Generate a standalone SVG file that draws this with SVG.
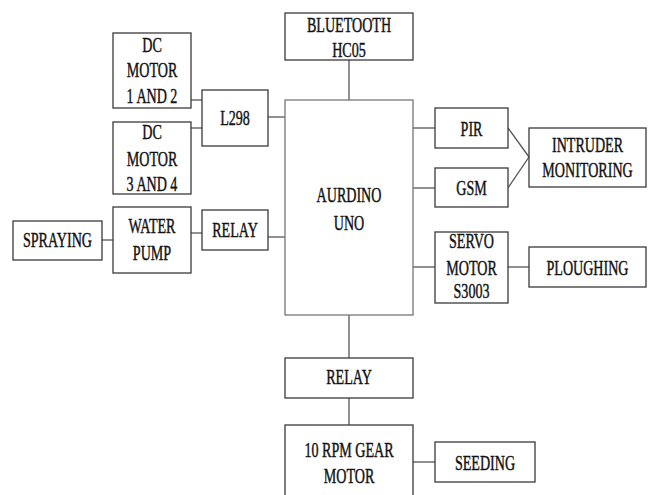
<svg xmlns="http://www.w3.org/2000/svg" width="652" height="495" viewBox="0 0 652 495">
<style>
rect{fill:#fff;stroke:#3a3a3a;stroke-width:1.3}
text{font-family:"Liberation Serif","Times New Roman",serif;font-size:22px;text-anchor:middle;fill:#111;stroke:#111;stroke-width:0.45}
.c line{stroke:#555;stroke-width:1.3}
</style>
<rect x="0" y="0" width="652" height="495" style="stroke:none"/>
<g class="c" id="connectors">
<line x1="349" y1="60" x2="349" y2="100"/>
<line x1="191" y1="100" x2="202" y2="100"/>
<line x1="191" y1="128" x2="202" y2="128"/>
<line x1="268" y1="117" x2="285" y2="117"/>
<line x1="102" y1="240" x2="113" y2="240"/>
<line x1="191" y1="233" x2="202" y2="233"/>
<line x1="268" y1="237" x2="285" y2="237"/>
<line x1="413" y1="128" x2="435" y2="128"/>
<line x1="413" y1="188" x2="435" y2="188"/>
<line x1="508" y1="128" x2="529" y2="157"/>
<line x1="508" y1="188" x2="529" y2="157"/>
<line x1="413" y1="267" x2="435" y2="267"/>
<line x1="508" y1="267" x2="529" y2="267"/>
<line x1="349" y1="315" x2="349" y2="358"/>
<line x1="349" y1="398" x2="349" y2="425"/>
<line x1="413" y1="462" x2="435" y2="462"/>
</g>
<g id="bluetooth"><rect x="285" y="13" width="128" height="47"/>
<text transform="translate(349 0) scale(0.64 1)" y="32">BLUETOOTH</text>
<text transform="translate(349 0) scale(0.64 1)" y="57">HC05</text></g>
<g id="dc12"><rect x="113" y="33" width="78" height="75"/>
<text transform="translate(152 0) scale(0.64 1)" y="52">DC</text>
<text transform="translate(152 0) scale(0.64 1)" y="77">MOTOR</text>
<text transform="translate(152 0) scale(0.64 1)" y="103">1 AND 2</text></g>
<g id="dc34"><rect x="113" y="122" width="78" height="72"/>
<text transform="translate(152 0) scale(0.64 1)" y="139">DC</text>
<text transform="translate(152 0) scale(0.64 1)" y="166">MOTOR</text>
<text transform="translate(152 0) scale(0.64 1)" y="191">3 AND 4</text></g>
<g id="l298"><rect x="202" y="90" width="66" height="56"/>
<text transform="translate(235 0) scale(0.64 1)" y="125">L298</text></g>
<g id="spraying"><rect x="13" y="221" width="89" height="39"/>
<text transform="translate(57.5 0) scale(0.64 1)" y="247">SPRAYING</text></g>
<g id="pump"><rect x="113" y="207" width="78" height="66"/>
<text transform="translate(152 0) scale(0.64 1)" y="233">WATER</text>
<text transform="translate(152 0) scale(0.64 1)" y="260">PUMP</text></g>
<g id="relay1"><rect x="202" y="210" width="66" height="40"/>
<text transform="translate(235 0) scale(0.64 1)" y="237">RELAY</text></g>
<g id="arduino"><rect x="285" y="100" width="128" height="215" style="stroke:#777"/>
<text transform="translate(349 0) scale(0.64 1)" y="202">AURDINO</text>
<text transform="translate(349 0) scale(0.64 1)" y="230">UNO</text></g>
<g id="pir"><rect x="435" y="108" width="73" height="40"/>
<text transform="translate(471.5 0) scale(0.64 1)" y="136">PIR</text></g>
<g id="gsm"><rect x="435" y="168" width="73" height="39"/>
<text transform="translate(471.5 0) scale(0.64 1)" y="195">GSM</text></g>
<g id="intruder"><rect x="529" y="128" width="117" height="59"/>
<text transform="translate(587.5 0) scale(0.64 1)" y="152">INTRUDER</text>
<text transform="translate(587.5 0) scale(0.64 1)" y="177">MONITORING</text></g>
<g id="servo"><rect x="435" y="232" width="73" height="71"/>
<text transform="translate(471.5 0) scale(0.64 1)" y="248">SERVO</text>
<text transform="translate(471.5 0) scale(0.64 1)" y="275">MOTOR</text>
<text transform="translate(471.5 0) scale(0.64 1)" y="298">S3003</text></g>
<g id="ploughing"><rect x="529" y="247" width="117" height="40"/>
<text transform="translate(587.5 0) scale(0.64 1)" y="275">PLOUGHING</text></g>
<g id="relay2"><rect x="285" y="358" width="128" height="40"/>
<text transform="translate(349 0) scale(0.64 1)" y="384">RELAY</text></g>
<g id="gear"><rect x="285" y="425" width="128" height="80"/>
<text transform="translate(349 0) scale(0.64 1)" y="457">10 RPM GEAR</text>
<text transform="translate(349 0) scale(0.64 1)" y="483">MOTOR</text></g>
<g id="seeding"><rect x="435" y="442" width="100" height="40"/>
<text transform="translate(485 0) scale(0.64 1)" y="470">SEEDING</text></g>
</svg>
